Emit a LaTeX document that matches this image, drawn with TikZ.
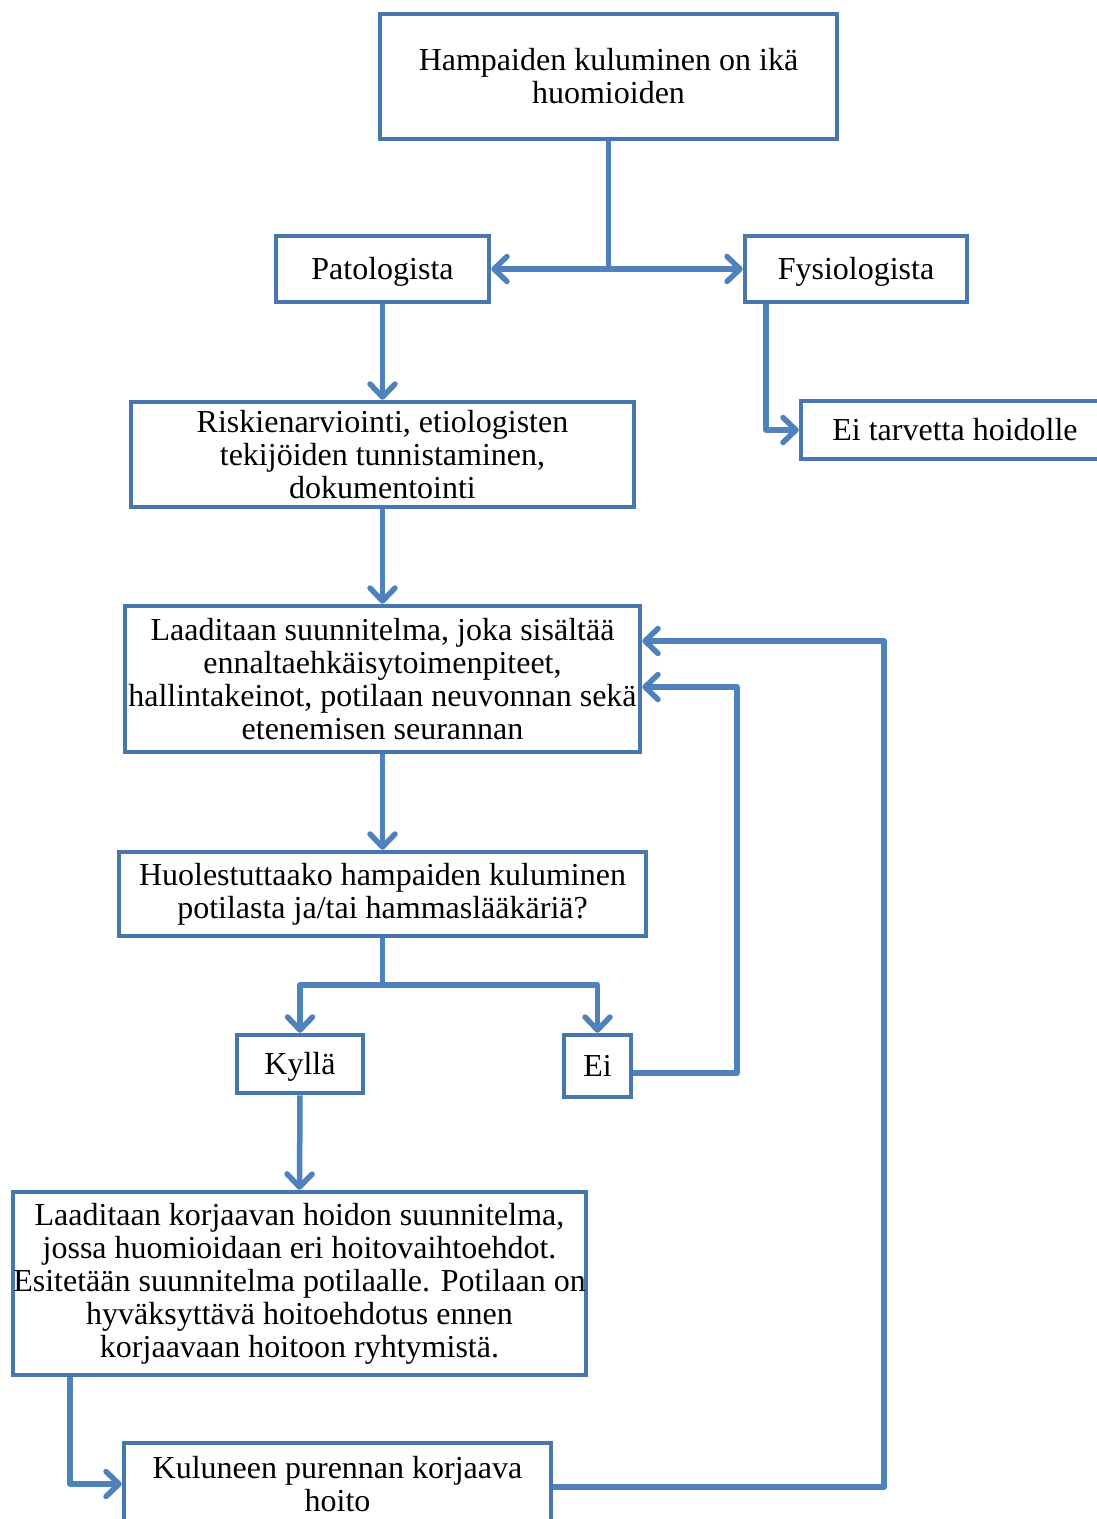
\documentclass[tikz,border=0pt]{standalone}
\usepackage{fontspec}
\setmainfont{Liberation Serif}
\usetikzlibrary{arrows.meta}
\definecolor{boxblue}{RGB}{72,118,175}
\definecolor{lineblue}{RGB}{79,129,189}
\begin{document}
\begin{tikzpicture}[x=1pt,y=-1pt,
  box/.style={draw=boxblue,line width=4.5pt,fill=white,inner sep=0pt,align=center,
    font=\fontsize{32pt}{33pt}\selectfont,text=black},
  single/.style={box,text height=24pt,text depth=3pt},
  conn/.style={draw=lineblue,line width=5.5pt,line join=round},
  arr/.style={conn,-{Straight Barb[length=13pt,width=25pt,round]}}]
\useasboundingbox (0,0) rectangle (1097,1519);
\node[box,minimum width=457pt,minimum height=125pt] (top) at (608.5,76.5) {Hampaiden kuluminen on ikä\\huomioiden};
\node[single,minimum width=213pt,minimum height=66pt] (pat) at (382.5,269) {Patologista};
\node[single,minimum width=222pt,minimum height=66pt] (fys) at (856,269) {Fysiologista};
\node[single,minimum width=308pt,minimum height=58pt] (eit) at (955,430) {Ei tarvetta hoidolle};
\node[box,minimum width=503pt,minimum height=105pt] (risk) at (382.5,454.5) {Riskienarviointi, etiologisten\\tekijöiden tunnistaminen,\\dokumentointi};
\node[box,minimum width=515pt,minimum height=146pt] (laad) at (382.5,679) {Laaditaan suunnitelma, joka sisältää\\ennaltaehkäisytoimenpiteet,\\hallintakeinot, potilaan neuvonnan sekä\\etenemisen seurannan};
\node[box,minimum width=527pt,minimum height=84pt] (huol) at (382.5,894) {Huolestuttaako hampaiden kuluminen\\potilasta ja/tai hammaslääkäriä?};
\node[single,minimum width=126pt,minimum height=58pt] (kyl) at (300,1064) {Kyllä};
\node[single,minimum width=67pt,minimum height=62pt] (ei) at (597.5,1066) {Ei};
\node[box,minimum width=573pt,minimum height=183pt] (korj) at (299.5,1283.5) {Laaditaan korjaavan hoidon suunnitelma,\\jossa huomioidaan eri hoitovaihtoehdot.\\Esitetään suunnitelma potilaalle. Potilaan on\\hyväksyttävä hoitoehdotus ennen\\korjaavaan hoitoon ryhtymistä.};
\node[box,minimum width=427pt,minimum height=82pt] (kul) at (337.5,1484) {Kuluneen purennan korjaava\\hoito};
\coordinate (j1) at (608.5,269);
\coordinate (j2) at (382.5,985);
\coordinate (c1) at (737,1073);
\coordinate (c2) at (884,1487);
\draw[conn] (top.south) -- (j1);
\draw[arr] (j1) -- (pat.east);
\draw[arr] (j1) -- (fys.west);
\draw[arr] (pat.south) -- (risk.north);
\draw[arr] ([xshift=-90pt]fys.south) |- (eit.west);
\draw[arr] (risk.south) -- (laad.north);
\draw[arr] (laad.south) -- (huol.north);
\draw[conn] (huol.south) -- (j2);
\draw[arr] (j2) -| (kyl.north);
\draw[arr] (j2) -| (ei.north);
\draw[arr] (kyl.south) -- (korj.north);
\draw[arr] ([yshift=-7pt]ei.east) -- (c1) |- ([yshift=-8pt]laad.east);
\draw[arr] ([xshift=-229.5pt]korj.south) |- (kul.west);
\draw[arr] ([yshift=-3pt]kul.east) -- (c2) |- ([yshift=38pt]laad.east);
\end{tikzpicture}
\end{document}
